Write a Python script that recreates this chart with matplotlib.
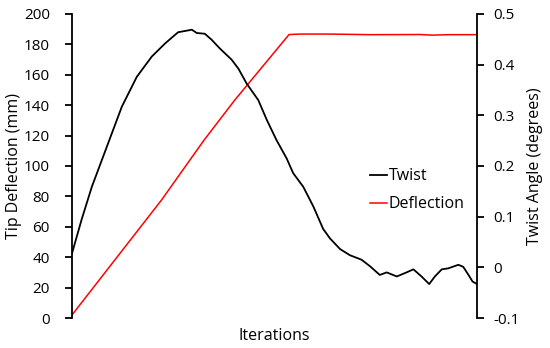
import matplotlib.pyplot as plt

plt.rcParams['font.family'] = ['Open Sans', 'DejaVu Sans']

# deflection (left axis, mm) vs iteration
defl_iter = [0, 22.1, 32.6, 40.2, 53.6, 56.3, 63.7, 73.6, 85.9, 88.9, 93.3, 100]
defl_mm = [2, 77.6, 117, 143.4, 186.5, 186.8, 186.8, 186.4, 186.5, 186.1, 186.4, 186.4]

# twist (right axis, degrees) vs iteration
twist_iter = [0, 2.4, 4.9, 8.6, 12.3, 16.0, 19.7, 23.0, 26.2, 29.6, 30.8, 32.8, 34.5,
              36.5, 39.4, 41.1, 43.1, 46.0, 48.1, 50.5, 53.0, 54.6, 57.1, 59.6,
              62.0, 63.7, 66.2, 68.6, 71.5, 73.6, 76.0, 77.7, 80.2, 82.6, 84.3,
              86.3, 88.2, 89.6, 91.3, 92.9, 95.4, 96.6, 97.9, 98.9, 100]
twist_deg = [0.0275, 0.095, 0.159, 0.238, 0.317, 0.376, 0.416, 0.442, 0.464, 0.469, 0.4625,
             0.461, 0.449, 0.432, 0.410, 0.392, 0.363, 0.330, 0.291, 0.251, 0.215,
             0.186, 0.159, 0.120, 0.076, 0.057, 0.036, 0.024, 0.015, 0.002, -0.015,
             -0.010, -0.018, -0.010, -0.004, -0.018, -0.033, -0.018, -0.004, -0.002,
             0.005, 0.001, -0.015, -0.028, -0.033]

left_ticks = [0, 20, 40, 60, 80, 100, 120, 140, 160, 180, 200]
right_ticks = [-0.1, 0, 0.1, 0.2, 0.3, 0.4, 0.5]
right_labels = ['-0.1', '0', '0.1', '0.2', '0.3', '0.4', '0.5']

fig = plt.figure(figsize=(5.5, 3.48), dpi=100)
ax = fig.add_axes([72 / 550, 30 / 348, 405 / 550, 304 / 348])
ax2 = ax.twinx()

red, = ax.plot(defl_iter, defl_mm, color='#ff0000', lw=1.1)
blk, = ax2.plot(twist_iter, twist_deg, color='black', lw=1.3,
                solid_joinstyle='round')

ax.set_xlim(0, 100)
ax.set_ylim(0, 200)
ax2.set_ylim(-0.1, 0.5)
ax.set_xticks([])
ax.set_yticks(left_ticks)
ax2.set_yticks(right_ticks)
ax2.set_yticklabels(right_labels)

for a in (ax, ax2):
    a.spines['top'].set_visible(False)
    a.spines['bottom'].set_visible(False)
    a.spines['left'].set_linewidth(1.3)
    a.spines['right'].set_linewidth(1.3)
ax.spines['right'].set_visible(False)
ax2.spines['left'].set_visible(False)

ax.tick_params(axis='y', direction='out', length=5, width=1.3, pad=11, labelsize=11)
ax2.tick_params(axis='y', direction='out', length=5, width=1.3, pad=7, labelsize=11)

ax.set_xlabel('Iterations', fontsize=11.5, labelpad=7)
ax.set_ylabel('Tip Deflection (mm)', fontsize=11.5, labelpad=1)
ax2.set_ylabel('Twist Angle (degrees)', fontsize=11.5, labelpad=5)

ax2.legend([blk, red], ['Twist', 'Deflection'], loc='center left',
           bbox_to_anchor=(0.735, 0.42), frameon=False, fontsize=11.5,
           handlelength=1.1, handletextpad=0.1, borderpad=0, borderaxespad=0,
           labelspacing=0.75)

fig.savefig('out.png', dpi=100)
